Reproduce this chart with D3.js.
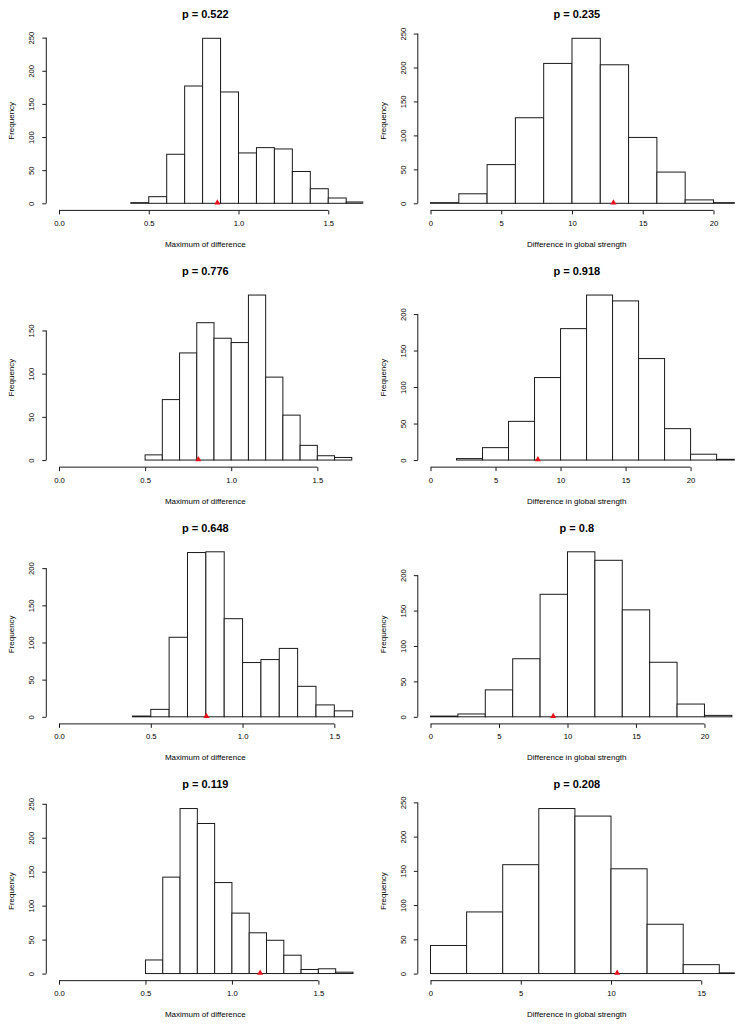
<!DOCTYPE html>
<html>
<head>
<meta charset="utf-8">
<script src="https://cdn.jsdelivr.net/npm/d3@7"></script>
<style>
  html, body { margin: 0; padding: 0; background: #fff; }
  svg { display: block; }
  text { font-family: "Liberation Sans", Arial, Helvetica, sans-serif; fill: #000; }
</style>
</head>
<body>
<div id="chart"></div>
<script>
// ---- Data ----
const pValues = ["0.522", "0.235", "0.776", "0.918", "0.648", "0.8", "0.119", "0.208"];
const xLabels = ["Maximum of difference", "Difference in global strength",
                 "Maximum of difference", "Difference in global strength",
                 "Maximum of difference", "Difference in global strength",
                 "Maximum of difference", "Difference in global strength"];
const binStart = [0.4, 0, 0.5, 2, 0.4, 0, 0.5, 0];
const binWidth = [0.1, 2, 0.1, 2, 0.1, 2, 0.1, 2];

const counts1 = [1, 10, 74, 177, 249, 168, 76, 84, 82, 48, 22, 8, 2];
const counts2 = [1, 14, 57, 126, 206, 243, 204, 97, 46, 5, 1];
const counts3 = [6, 70, 124, 159, 141, 136, 191, 96, 52, 17, 5, 3];
const counts4 = [2, 17, 53, 113, 180, 226, 218, 139, 43, 8, 1];
const counts5 = [1, 10, 107, 221, 222, 132, 73, 77, 92, 41, 16, 8];
const counts6 = [1, 4, 38, 82, 173, 233, 221, 151, 77, 18, 2];
const counts7 = [20, 142, 243, 221, 134, 89, 60, 49, 27, 6, 7, 2];
const counts8 = [41, 90, 159, 241, 230, 153, 72, 13, 1];
const allCounts = [counts1, counts2, counts3, counts4, counts5, counts6, counts7, counts8];

const observed = [0.882, 12.93, 0.809, 8.26, 0.803, 8.96, 1.163, 10.34];
// upper data limit of each x range (range is padded by 4% each side, as in R)
const xMax = [1.63, 20.68, 1.699, 22.5, 1.594, 21.36, 1.692, 16.21];

const xTickLeft = ["0.0", "0.5", "1.0", "1.5"];
const xTickRight20 = ["0", "5", "10", "15", "20"];
const xTickRight15 = ["0", "5", "10", "15"];
const xTickLabels = [xTickLeft, xTickRight20, xTickLeft, xTickRight20, xTickLeft, xTickRight20, xTickLeft, xTickRight15];

const yTicks250 = [0, 50, 100, 150, 200, 250];
const yTicks200 = [0, 50, 100, 150, 200];
const yTicks150 = [0, 50, 100, 150];
const yTickSets = [yTicks250, yTicks250, yTicks150, yTicks200, yTicks200, yTicks200, yTicks250, yTicks250];

// ---- Layout ----
const W = 743, H = 1027;
const colW = W / 2, rowH = H / 4;
const L = 47.3, R = 363.3;      // plot region (panel-local)
const base = 203.3;             // y of zero count
const dataH = 165;              // px from 0 to max count
const pad = dataH * 0.04;

const svg = d3.select("#chart").append("svg")
  .attr("width", W).attr("height", H);
svg.append("rect").attr("width", W).attr("height", H).attr("fill", "#fff");

const stroke = "#1a1a1a";

allCounts.forEach((counts, k) => {
  const col = k % 2, row = Math.floor(k / 2);
  const g = svg.append("g")
    .attr("transform", `translate(${col * colW},${row * rowH})`);

  const xm = xMax[k];
  const x = d3.scaleLinear().domain([-0.04 * xm, 1.04 * xm]).range([L, R]);
  const ymax = d3.max(counts);
  const y = d3.scaleLinear().domain([0, ymax]).range([base, base - dataH]);

  const clipId = "clip" + k;
  g.append("clipPath").attr("id", clipId)
    .append("rect")
    .attr("x", L).attr("y", base - dataH - pad)
    .attr("width", R - L).attr("height", dataH + 2 * pad);

  // bars
  const bars = counts.map((c, i) => ({
    x0: binStart[k] + i * binWidth[k],
    x1: binStart[k] + (i + 1) * binWidth[k],
    c
  }));
  g.append("g").attr("clip-path", `url(#${clipId})`)
    .selectAll("rect").data(bars).join("rect")
    .attr("x", d => x(d.x0))
    .attr("y", d => y(d.c))
    .attr("width", d => x(d.x1) - x(d.x0))
    .attr("height", d => y(0) - y(d.c))
    .attr("fill", "#fff")
    .attr("stroke", stroke)
    .attr("stroke-width", 1);

  // observed value marker
  g.append("path")
    .attr("d", d3.symbol(d3.symbolTriangle).size(16)())
    .attr("transform", `translate(${x(observed[k])},${y(0) - 0.5})`)
    .attr("fill", "#e8101a");

  // x axis
  const xt = xTickLabels[k].map(s => +s);
  const axY = base + pad + 0.5;
  const xAxis = d3.axisBottom(x).tickValues(xt)
    .tickFormat((d, i) => xTickLabels[k][i])
    .tickSize(4).tickSizeOuter(0).tickPadding(6);
  const gx = g.append("g").attr("transform", `translate(0,${axY})`).call(xAxis);
  gx.select(".domain").attr("d", `M${x(xt[0])},0H${x(xt[xt.length - 1])}`)
    .attr("stroke", stroke);
  gx.selectAll(".tick line").attr("stroke", stroke);
  gx.selectAll(".tick text").attr("font-size", 7.7)
    .attr("font-family", "'Liberation Sans', Arial, sans-serif").attr("fill", "#000");

  // y axis
  const yt = yTickSets[k];
  const yAxis = d3.axisLeft(y).tickValues(yt).tickFormat(d3.format("d"))
    .tickSize(4).tickSizeOuter(0).tickPadding(0);
  const gy = g.append("g").attr("transform", `translate(${L - 1},0)`).call(yAxis);
  gy.select(".domain").attr("d", `M0,${y(yt[0])}V${y(yt[yt.length - 1])}`)
    .attr("stroke", stroke);
  gy.selectAll(".tick line").attr("stroke", stroke);
  gy.selectAll(".tick text")
    .attr("x", null).attr("dy", null)
    .attr("transform", `translate(${31.7 - (L - 1)},0) rotate(-90)`)
    .attr("text-anchor", "middle")
    .attr("dominant-baseline", "central")
    .attr("font-size", 7.7)
    .attr("font-family", "'Liberation Sans', Arial, sans-serif").attr("fill", "#000");

  const cx = (L + R) / 2;
  // title
  g.append("text")
    .attr("x", cx).attr("y", base - 189.3)
    .attr("text-anchor", "middle").attr("dominant-baseline", "central")
    .attr("font-size", 11).attr("font-weight", "bold")
    .text("p = " + pValues[k]);

  // x label
  g.append("text")
    .attr("x", cx).attr("y", base + 41)
    .attr("text-anchor", "middle").attr("dominant-baseline", "central")
    .attr("font-size", 8)
    .text(xLabels[k]);

  // y label
  g.append("text")
    .attr("transform", `translate(11.7,${base - dataH / 2}) rotate(-90)`)
    .attr("text-anchor", "middle").attr("dominant-baseline", "central")
    .attr("font-size", 8)
    .text("Frequency");
});
</script>
</body>
</html>
